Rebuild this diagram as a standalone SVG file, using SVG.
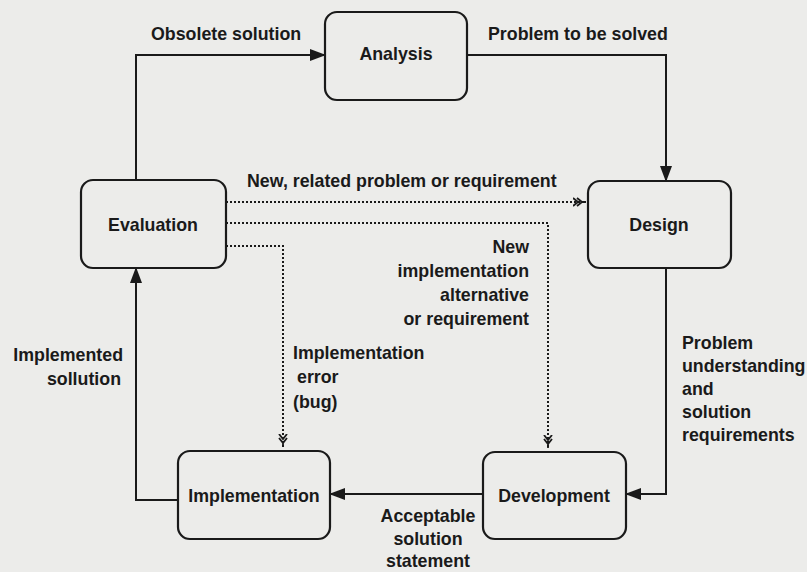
<svg xmlns="http://www.w3.org/2000/svg" width="807" height="572" viewBox="0 0 807 572">
<style>
.bg{fill:#ececea}
.box{fill:#ececea;stroke:#1a1a1a;stroke-width:2.2}
.t{font-family:"Liberation Sans",Arial,sans-serif;font-weight:bold;font-size:17.8px;fill:#1a1a1a}
.c{text-anchor:middle}
.r{text-anchor:end}
.ln{fill:none;stroke:#1a1a1a;stroke-width:2}
.dt{fill:none;stroke:#1a1a1a;stroke-width:2;stroke-dasharray:2 2}
</style>
<defs>
<marker id="ah" markerWidth="16" markerHeight="12" refX="15" refY="6" orient="auto" markerUnits="userSpaceOnUse">
<path d="M0,0 L16,6 L0,12 Z" fill="#1a1a1a"/>
</marker>
<marker id="fh" markerWidth="14" markerHeight="10" refX="13" refY="5" orient="auto" markerUnits="userSpaceOnUse">
<path d="M0,1 L5,5 L0,9 M4,1 L9,5 L4,9 M9,5 L13,5" fill="none" stroke="#1a1a1a" stroke-width="1.8"/>
</marker>
</defs>
<rect class="bg" x="0" y="0" width="807" height="572"/>
<g id="connectors">
<path class="ln" d="M136,180 V55 H325" marker-end="url(#ah)"/>
<path class="ln" d="M467,55 H666 V181" marker-end="url(#ah)"/>
<path class="ln" d="M666,268 V494 H626" marker-end="url(#ah)"/>
<path class="ln" d="M483,494 H330" marker-end="url(#ah)"/>
<path class="ln" d="M178,500 H136 V268" marker-end="url(#ah)"/>
<path class="dt" d="M226,202 H586" marker-end="url(#fh)"/>
<path class="dt" d="M226,223 H548 V448" marker-end="url(#fh)"/>
<path class="dt" d="M226,246 H283 V447" marker-end="url(#fh)"/>
<text class="t" x="151" y="40">Obsolete solution</text>
<text class="t" x="488" y="40">Problem to be solved</text>
<text class="t" x="247" y="187">New, related problem or requirement</text>
<text class="t r" x="529" y="253">New</text>
<text class="t r" x="529" y="277">implementation</text>
<text class="t r" x="529" y="301">alternative</text>
<text class="t r" x="529" y="325">or requirement</text>
<text class="t r" x="123" y="361">Implemented</text>
<text class="t r" x="121" y="385">sollution</text>
<text class="t" x="293" y="359">Implementation</text>
<text class="t" x="297" y="383">error</text>
<text class="t" x="293" y="408">(bug)</text>
<text class="t" x="682" y="349">Problem</text>
<text class="t" x="682" y="372">understanding</text>
<text class="t" x="682" y="395">and</text>
<text class="t" x="682" y="418">solution</text>
<text class="t" x="682" y="441">requirements</text>
<text class="t c" x="428" y="522">Acceptable</text>
<text class="t c" x="428" y="545">solution</text>
<text class="t c" x="428" y="567">statement</text>
</g>
<g id="analysis"><rect class="box" x="325" y="12" width="142" height="88" rx="12"/><text class="t c" x="396" y="60">Analysis</text></g>
<g id="design"><rect class="box" x="588" y="181" width="143" height="87" rx="12"/><text class="t c" x="659" y="231">Design</text></g>
<g id="evaluation"><rect class="box" x="81" y="180" width="145" height="88" rx="12"/><text class="t c" x="153" y="231">Evaluation</text></g>
<g id="implementation"><rect class="box" x="178" y="451" width="152" height="88" rx="12"/><text class="t c" x="254" y="502">Implementation</text></g>
<g id="development"><rect class="box" x="483" y="452" width="143" height="87" rx="12"/><text class="t c" x="554" y="502">Development</text></g>
</svg>
